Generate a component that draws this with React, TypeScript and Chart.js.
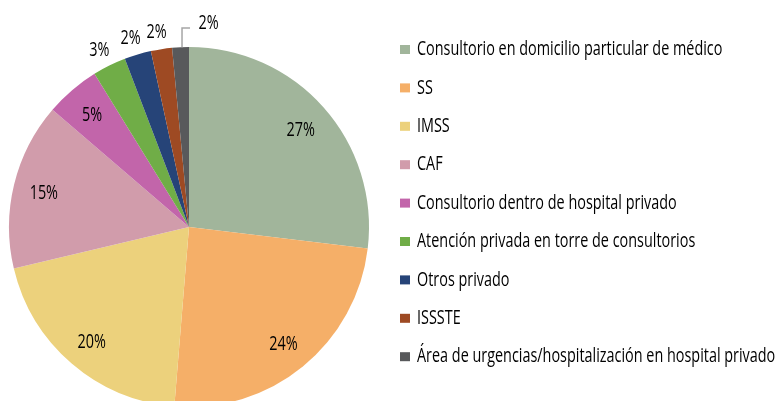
import React, { useEffect, useRef } from "react";
import { Chart, registerables } from "chart.js";

Chart.register(...registerables);

const categories = [
  "Consultorio en domicilio particular de médico",
  "SS",
  "IMSS",
  "CAF",
  "Consultorio dentro de hospital privado",
  "Atención privada en torre de consultorios",
  "Otros privado",
  "ISSSTE",
  "Área de urgencias/hospitalización en hospital privado",
];
const values = [26.9, 24.4, 20.0, 15.0, 4.9, 3.0, 2.4, 1.9, 1.5];
const colors = [
  "#A1B59B",
  "#F5AF68",
  "#ECD17C",
  "#D19CAB",
  "#C265AA",
  "#70AD47",
  "#264478",
  "#9E4A23",
  "#58595B",
];

const FONT_FAMILY = "'Open Sans', 'Noto Sans', sans-serif";
const FONT_SIZE = 20;
const SX = 0.72;
const TEXT_COLOR = "#000000";

function drawScaledText(
  ctx: CanvasRenderingContext2D,
  text: string,
  x: number,
  y: number,
  align: "left" | "center"
) {
  ctx.save();
  ctx.font = `${FONT_SIZE}px ${FONT_FAMILY}`;
  ctx.textBaseline = "middle";
  ctx.fillStyle = TEXT_COLOR;
  const w = ctx.measureText(text).width * SX;
  const left = align === "center" ? x - w / 2 : x;
  ctx.translate(left, y);
  ctx.scale(SX, 1);
  ctx.textAlign = "left";
  ctx.fillText(text, 0, 0);
  ctx.restore();
}

const labelPlugin = {
  id: "pieLabels",
  afterDatasetsDraw(chart: any) {
    const ctx: CanvasRenderingContext2D = chart.ctx;
    const meta = chart.getDatasetMeta(0);
    const data = chart.data.datasets[0].data as number[];
    meta.data.forEach((arc: any, i: number) => {
      const { x, y, startAngle, endAngle, outerRadius } = arc.getProps(
        ["x", "y", "startAngle", "endAngle", "outerRadius"],
        true
      );
      const mid = (startAngle + endAngle) / 2;
      const txt = Math.round(data[i]) + "%";
      if (data[i] >= 4) {
        const r = outerRadius * 0.83;
        drawScaledText(ctx, txt, x + Math.cos(mid) * r, y + Math.sin(mid) * r + 2, "center");
      } else if (i < data.length - 1) {
        const r = outerRadius * 1.1;
        drawScaledText(ctx, txt, x + Math.cos(mid) * r - 2, y + Math.sin(mid) * r + 1, "center");
      } else {
        const ex = x + Math.cos(mid) * outerRadius;
        const ey = y + Math.sin(mid) * outerRadius;
        const topY = y - outerRadius - 19;
        ctx.save();
        ctx.strokeStyle = "#A6A6A6";
        ctx.lineWidth = 1.5;
        ctx.beginPath();
        ctx.moveTo(ex + 1.5, ey);
        ctx.lineTo(ex + 1.5, topY);
        ctx.lineTo(ex + 9.5, topY);
        ctx.stroke();
        ctx.restore();
        drawScaledText(ctx, txt, ex + 18, topY - 5, "left");
      }
    });
  },
};

const legendPlugin = {
  id: "sideLegend",
  afterDraw(chart: any) {
    const ctx: CanvasRenderingContext2D = chart.ctx;
    const labels = chart.data.labels as string[];
    const bg = chart.data.datasets[0].backgroundColor as string[];
    const startY = 49.5;
    const step = 38.4;
    labels.forEach((lab, i) => {
      const cy = startY + i * step;
      ctx.save();
      ctx.fillStyle = bg[i];
      ctx.fillRect(400, cy - 4.5, 10, 9);
      ctx.restore();
      drawScaledText(ctx, lab, 417, cy, "left");
    });
  },
};

export default function App() {
  const ref = useRef<HTMLCanvasElement | null>(null);
  useEffect(() => {
    if (!ref.current) return;
    const chart = new Chart(ref.current, {
      type: "pie",
      data: {
        labels: categories,
        datasets: [
          {
            data: values,
            backgroundColor: colors,
            borderWidth: 0,
          },
        ],
      },
      options: {
        responsive: false,
        animation: false,
        devicePixelRatio: 1,
        layout: { padding: { left: 9, right: 409, top: 47, bottom: 0 } },
        plugins: {
          legend: { display: false },
          tooltip: { enabled: false },
        },
      },
      plugins: [labelPlugin, legendPlugin],
    });
    return () => chart.destroy();
  }, []);
  return (
    <div
      style={{
        position: "fixed",
        left: 0,
        top: 0,
        width: 778,
        height: 401,
        overflow: "hidden",
        background: "#fff",
      }}
    >
      <canvas ref={ref} width={778} height={407} style={{ display: "block" }} />
    </div>
  );
}
